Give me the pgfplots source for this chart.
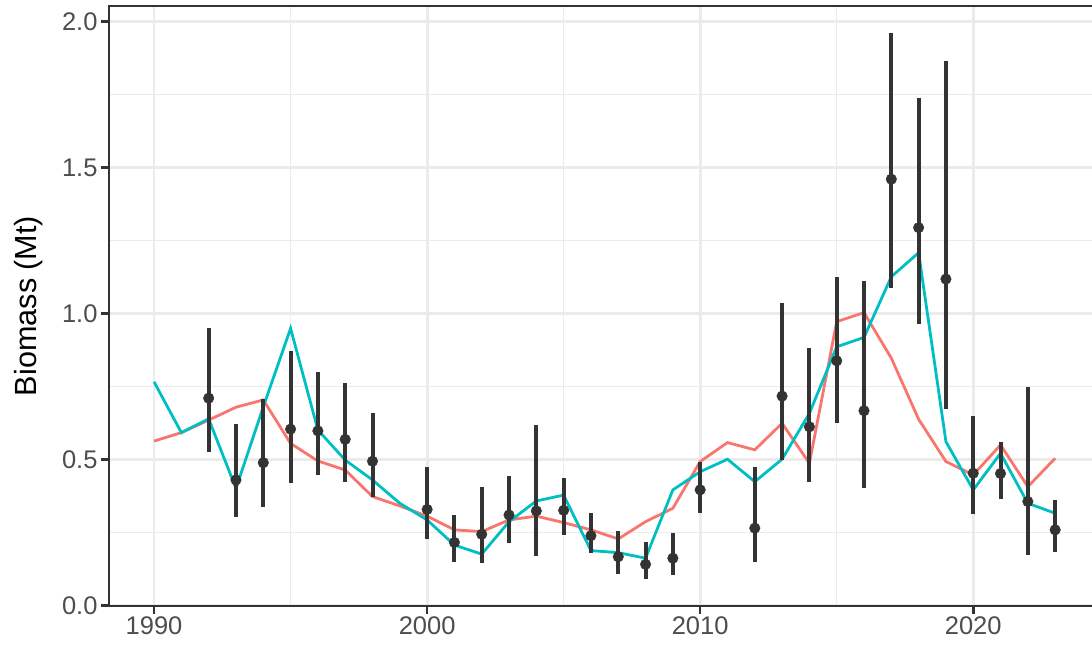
\documentclass[border=0pt]{standalone}
\usepackage{pgfplots}
\usepackage{pgfplotstable}
\pgfplotsset{compat=1.18}
\usepackage{fontspec}
\setmainfont{Liberation Sans}
\definecolor{redl}{HTML}{F8766D}
\definecolor{teall}{HTML}{00BFC4}
\definecolor{g20}{HTML}{333333}
\definecolor{g30}{HTML}{4D4D4D}
\definecolor{g92}{HTML}{EBEBEB}

\pgfplotstableread{
year est lo hi
1992 0.710 0.527 0.951
1993 0.430 0.303 0.620
1994 0.489 0.337 0.706
1995 0.604 0.421 0.872
1996 0.598 0.447 0.800
1997 0.569 0.424 0.763
1998 0.494 0.372 0.660
2000 0.329 0.228 0.473
2001 0.216 0.150 0.311
2002 0.244 0.147 0.405
2003 0.310 0.213 0.445
2004 0.324 0.170 0.618
2005 0.326 0.241 0.437
2006 0.239 0.179 0.318
2007 0.167 0.108 0.256
2008 0.141 0.091 0.216
2009 0.162 0.104 0.249
2010 0.396 0.318 0.493
2012 0.265 0.150 0.474
2013 0.717 0.498 1.035
2014 0.612 0.424 0.881
2015 0.838 0.624 1.126
2016 0.667 0.401 1.111
2017 1.460 1.086 1.961
2018 1.294 0.964 1.738
2019 1.118 0.673 1.865
2020 0.453 0.313 0.650
2021 0.452 0.365 0.561
2022 0.356 0.173 0.749
2023 0.259 0.184 0.361
}\pts

\pgfplotstableread{
year red teal
1990 0.563 0.766
1991 0.592 0.592
1992 0.635 0.639
1993 0.679 0.401
1994 0.704 0.680
1995 0.555 0.949
1996 0.495 0.601
1997 0.464 0.498
1998 0.373 0.430
1999 0.341 0.350
2000 0.306 0.293
2001 0.259 0.207
2002 0.253 0.176
2003 0.293 0.287
2004 0.306 0.358
2005 0.284 0.378
2006 0.259 0.188
2007 0.228 0.181
2008 0.287 0.162
2009 0.333 0.396
2010 0.493 0.458
2011 0.558 0.501
2012 0.533 0.424
2013 0.624 0.501
2014 0.487 0.658
2015 0.972 0.886
2016 1.003 0.918
2017 0.847 1.126
2018 0.638 1.208
2019 0.493 0.561
2020 0.447 0.396
2021 0.550 0.521
2022 0.407 0.350
2023 0.504 0.316
}\lines

\begin{document}
\begin{tikzpicture}
\path[use as bounding box] (0,0) rectangle (1092pt,646pt);
\begin{axis}[
  at={(109pt,40.5pt)}, anchor=south west,
  scale only axis, width=991.2pt, height=599.2pt,
  xmin=1988.35, xmax=2024.65, ymin=0, ymax=2.052,
  xtick={1990,2000,2010,2020}, xticklabels={1990,2000,2010,2020},
  ytick={0,0.5,1,1.5,2}, yticklabels={0.0,0.5,1.0,1.5,2.0},
  minor xtick={1995,2005,2015}, minor ytick={0.25,0.75,1.25,1.75},
  grid=both,
  major grid style={draw=g92, line width=2.8pt},
  minor grid style={draw=g92, line width=1.4pt},
  axis line style={draw=g20, line width=2pt},
  tick align=outside, tick pos=left,
  major tick length=8pt, minor tick length=0pt,
  tick style={draw=g20, line width=2.6pt},
  tick label style={font=\fontsize{25.5}{30}\selectfont, text=g30},
  ylabel={Biomass (Mt)},
  every axis y label/.style={at={(axis description cs:0,0.5)}, rotate=90, anchor=base, yshift=72.3pt, font=\fontsize{30.6}{36}\selectfont, text=black},
]
\addplot[redl, line width=2.8pt] table[x=year, y=red] {\lines};
\addplot[teall, line width=2.8pt] table[x=year, y=teal] {\lines};
\addplot[only marks, mark=*, mark size=5.3pt, color=g20,
  error bars/.cd, y dir=both, y explicit, error mark=none,
  error bar style={line width=4pt, g20}]
  table[x=year, y=est, y error plus expr=\thisrow{hi}-\thisrow{est}, y error minus expr=\thisrow{est}-\thisrow{lo}] {\pts};
\end{axis}
\end{tikzpicture}
\end{document}
